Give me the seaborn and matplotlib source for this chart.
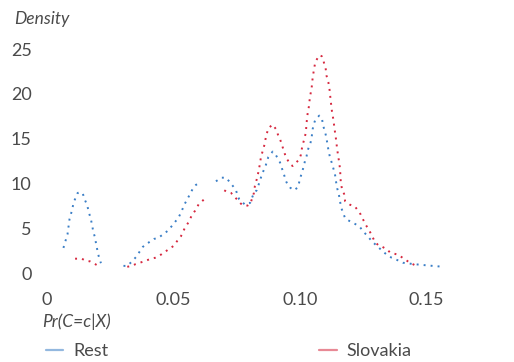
import numpy as np
import pandas as pd
import seaborn as sns
import matplotlib
matplotlib.use("Agg")
import matplotlib.pyplot as plt
from matplotlib.lines import Line2D

# Estimated density of Pr(C=c|X), split into the pieces drawn as separate line runs
rest_x = [
    [0.0066, 0.0071, 0.0082, 0.0090, 0.0098, 0.0107, 0.0122, 0.0132, 0.0143, 0.0148,
     0.0159, 0.0169, 0.0175, 0.0184, 0.0190, 0.0198, 0.0205, 0.0214],
    [0.0303, 0.0318, 0.0337, 0.0353, 0.0379, 0.0392, 0.0424, 0.0440, 0.0478, 0.0496,
     0.0510, 0.0521, 0.0533, 0.0543, 0.0555, 0.0566, 0.0579, 0.0589, 0.0601],
    [0.0668, 0.0690, 0.0708, 0.0726, 0.0737, 0.0747, 0.0752, 0.0760, 0.0783, 0.0803,
     0.0811, 0.0818, 0.0829, 0.0834, 0.0849, 0.0865, 0.0875, 0.0892, 0.0905, 0.0921,
     0.0929, 0.0934, 0.0945, 0.0950, 0.0961, 0.0975, 0.0991, 0.0996, 0.1000, 0.1007,
     0.1015, 0.1020, 0.1026, 0.1030, 0.1035, 0.1041, 0.1046, 0.1050, 0.1055, 0.1060,
     0.1076, 0.1087, 0.1092, 0.1097, 0.1103, 0.1108, 0.1112, 0.1118, 0.1126, 0.1132,
     0.1138, 0.1142, 0.1147, 0.1153, 0.1158, 0.1162, 0.1169, 0.1178, 0.1188, 0.1228,
     0.1237, 0.1253, 0.1261, 0.1279, 0.1289, 0.1316, 0.1340, 0.1362, 0.1388, 0.1406,
     0.1448, 0.1511, 0.1566],
]
rest_y = [
    [2.9, 3.4, 4.4, 6.1, 6.9, 8.0, 9.0, 9.1, 8.9, 8.4,
     7.7, 6.6, 6.0, 4.7, 4.1, 2.9, 2.0, 1.2],
    [0.9, 0.9, 1.4, 1.9, 3.0, 3.3, 3.9, 4.0, 4.8, 5.4,
     5.9, 6.3, 7.0, 7.7, 8.3, 8.9, 9.6, 9.9, 10.1],
    [10.3, 10.7, 10.7, 10.1, 9.7, 9.3, 8.9, 8.3, 7.7, 7.9,
     8.5, 9.0, 9.3, 9.7, 11.0, 12.1, 13.0, 13.6, 13.2, 12.4,
     11.7, 11.3, 10.3, 10.0, 9.6, 9.3, 9.6, 10.1, 10.6, 11.2,
     12.0, 12.6, 13.1, 13.7, 14.1, 14.5, 15.2, 16.1, 16.7, 17.1,
     17.6, 17.2, 16.4, 16.0, 15.3, 14.5, 13.8, 13.0, 12.3, 11.7,
     11.1, 10.3, 9.5, 8.9, 8.1, 7.4, 6.9, 6.2, 6.0, 5.4,
     5.2, 4.6, 4.4, 3.8, 3.5, 2.8, 2.2, 1.8, 1.5, 1.25,
     1.1, 0.93, 0.8],
]

slovakia_x = [
    [0.0112, 0.0139, 0.0151, 0.0171, 0.0191, 0.0210],
    [0.0318, 0.0336, 0.0351, 0.0384, 0.0412, 0.0428, 0.0454, 0.0484, 0.0500, 0.0516,
     0.0530, 0.0545, 0.0561, 0.0574, 0.0585, 0.0601, 0.0614, 0.0625],
    [0.0701, 0.0713, 0.0728, 0.0767, 0.0779, 0.0793, 0.0805, 0.0818, 0.0822, 0.0829,
     0.0834, 0.0839, 0.0846, 0.0853, 0.0859, 0.0866, 0.0875, 0.0892, 0.0905, 0.0914,
     0.0921, 0.0928, 0.0944, 0.0961, 0.0971, 0.0996, 0.1003, 0.1009, 0.1016, 0.1023,
     0.1026, 0.1030, 0.1035, 0.1039, 0.1046, 0.1050, 0.1055, 0.1060, 0.1075, 0.1086,
     0.1091, 0.1096, 0.1101, 0.1105, 0.1112, 0.1117, 0.1121, 0.1126, 0.1132, 0.1137,
     0.1142, 0.1147, 0.1153, 0.1158, 0.1161, 0.1166, 0.1174, 0.1178, 0.1197, 0.1217,
     0.1240, 0.1250, 0.1261, 0.1274, 0.1283, 0.1290, 0.1295, 0.1309, 0.1320, 0.1345,
     0.1355, 0.1368, 0.1390, 0.1405, 0.1418, 0.1434, 0.1458],
]
slovakia_y = [
    [1.7, 1.7, 1.5, 1.4, 1.1, 0.8],
    [0.8, 0.9, 1.1, 1.4, 1.7, 1.8, 2.2, 2.8, 3.1, 3.7,
     4.2, 5.1, 5.8, 6.6, 7.0, 7.8, 8.1, 8.4],
    [9.3, 9.1, 9.0, 7.8, 7.6, 7.6, 7.9, 9.0, 9.8, 10.5,
     11.1, 11.8, 13.0, 13.7, 14.3, 15.3, 16.2, 16.6, 16.1, 15.4,
     15.0, 14.4, 13.0, 12.2, 12.0, 12.7, 13.2, 14.2, 14.9, 15.7,
     16.8, 17.8, 18.6, 19.6, 20.7, 21.8, 22.7, 23.5, 24.3, 24.2,
     23.9, 23.3, 22.9, 22.0, 21.3, 20.4, 19.3, 18.1, 17.1, 16.0,
     15.0, 13.8, 12.7, 11.7, 10.2, 9.4, 8.9, 8.1, 7.7, 7.5,
     6.6, 6.0, 5.4, 4.8, 4.3, 3.9, 3.6, 3.2, 3.1, 2.7,
     2.4, 2.3, 2.1, 1.8, 1.55, 1.25, 0.92],
]

group_names = ["Rest", "Slovakia"]
x_ticks = [0, 0.05, 0.10, 0.15]
x_tick_labels = ["0", "0.05", "0.10", "0.15"]
y_ticks = [0, 5, 10, 15, 20, 25]
y_tick_labels = ["0", "5", "10", "15", "20", "25"]

# Long-form table: one row per point, with a run id so breaks stay visible
rows = []
for name, xs_list, ys_list in [("Rest", rest_x, rest_y), ("Slovakia", slovakia_x, slovakia_y)]:
    for seg, (xs, ys) in enumerate(zip(xs_list, ys_list)):
        for xv, yv in zip(xs, ys):
            rows.append({"group": name, "run": f"{name}-{seg}", "x": xv, "y": yv})
df = pd.DataFrame(rows)

sns.set_theme(style="white")
plt.rcParams["font.family"] = ["Lato", "DejaVu Sans"]

palette = {"Rest": "#3a7ec6", "Slovakia": "#d6283f"}
text_color = "#4a4a4a"

fig = plt.figure(figsize=(5.14, 3.62), dpi=100)
ax = fig.add_axes([0.0712, 0.2307, 0.8574, 0.6588])

sns.lineplot(data=df, x="x", y="y", hue="group", units="run", estimator=None,
             palette=palette, linewidth=1.4, linestyle=(0, (1, 2.6)),
             sort=False, legend=False, ax=ax)

ax.set_xlim(-0.004, 0.17)
ax.set_ylim(-0.5, 26)
ax.set_xticks(x_ticks)
ax.set_xticklabels(x_tick_labels)
ax.set_yticks(y_ticks)
ax.set_yticklabels(y_tick_labels)
ax.tick_params(axis="both", length=0, labelsize=13, colors=text_color)
ax.tick_params(axis="x", pad=10)
ax.tick_params(axis="y", pad=3.5)
for s in ax.spines.values():
    s.set_visible(False)
ax.grid(False)
ax.set_xlabel("")
ax.set_ylabel("")

fig.text(14 / 514, 1 - 19 / 362, "Density", style="italic", fontsize=12.5,
         color=text_color, ha="left", va="center")
fig.text(42 / 514, 1 - 322 / 362, "Pr(C=c|X)", style="italic", fontsize=12.5,
         color=text_color, ha="left", va="center")

handles = [Line2D([0], [0], color=palette[g], lw=1.6, alpha=0.55) for g in group_names]
leg = fig.legend(handles, group_names, loc="center left",
                 bbox_to_anchor=(46 / 514, 1 - 351 / 362), ncol=2, frameon=False,
                 fontsize=13, handlelength=0.95, handletextpad=0.55,
                 columnspacing=11.7, borderpad=0, borderaxespad=0)
for t in leg.get_texts():
    t.set_color(text_color)

fig.savefig("out.png", dpi=100)
